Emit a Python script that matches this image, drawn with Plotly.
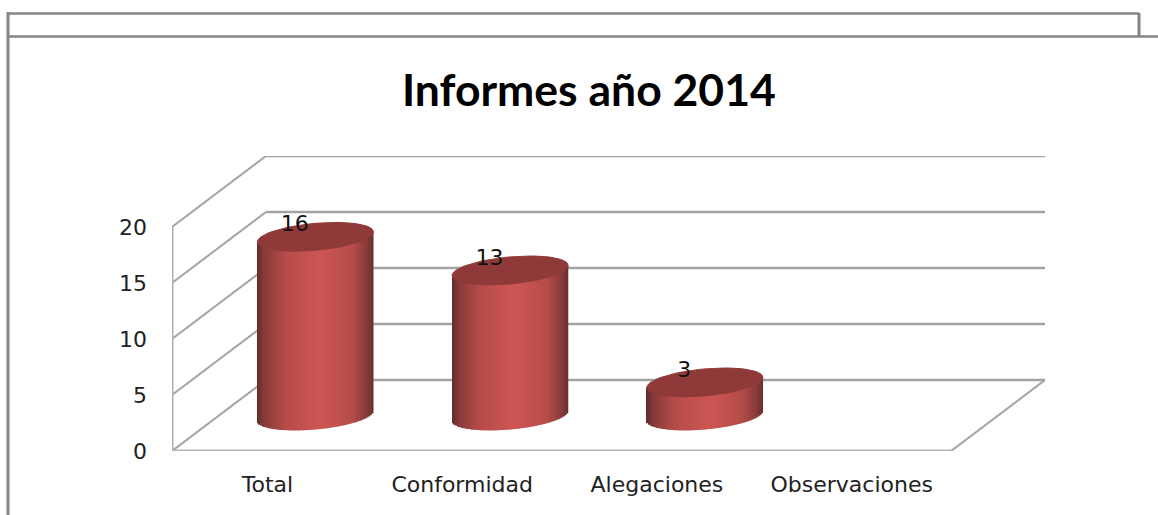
import math
import plotly.graph_objects as go

categories = ["Total", "Conformidad", "Alegaciones", "Observaciones"]
values = [16, 13, 3, 0]
y_ticks = [0, 5, 10, 15, 20]
title_text = "Informes año 2014"

W, H = 1158, 515
L, R, T, B = 172, 113, 156, 64
PX_X = 194.75          # pixels per category
PX_Y = 11.2            # pixels per value unit
DX = 94 / PX_X         # depth offset of back wall
DY = 71 / PX_Y
BAR_A = 58 / PX_X
BAR_B = 13.5 / PX_Y
BAR_S = 5 / PX_Y
BAR_DX = 0.5 + DX / 2 - 0.005
BAR_DY = 35 / PX_Y
N = 70
GREY = "#a3a3a3"
STOPS = [(0.0, (92, 44, 42)), (0.06, (135, 58, 56)), (0.25, (182, 76, 74)),
         (0.55, (205, 86, 83)), (0.82, (182, 76, 74)), (0.95, (135, 58, 56)), (1.0, (105, 48, 46))]


def shade(f):
    for (a, ca), (b, cb) in zip(STOPS, STOPS[1:]):
        if f <= b:
            k = (f - a) / (b - a)
            return "rgb(%d,%d,%d)" % tuple(round(p + (q - p) * k) for p, q in zip(ca, cb))
    return "rgb(%d,%d,%d)" % STOPS[-1][1]


def line(x0, y0, x1, y1, color=GREY, width=2.5, ref="x", layer="below"):
    return dict(type="line", xref=ref, yref="y" if ref == "x" else ref, x0=x0, y0=y0, x1=x1, y1=y1,
                line=dict(color=color, width=width), layer=layer)


def page(px, py):
    return (px - L) / (W - L - R), (H - B - py) / (H - T - B)


fig = go.Figure()

for i, v in enumerate(values):
    if v <= 0:
        continue
    cx = i + BAR_DX
    xs, tops, bases, colors, widths = [], [], [], [], []
    step = 2 * BAR_A / N
    for k in range(N):
        f = (k + 0.5) / N
        u = 2 * f - 1
        xs.append(cx + u * BAR_A)
        widths.append(step * 1.15)
        bottom = BAR_DY + BAR_S * u - BAR_B * math.sqrt(1 - u * u)
        bases.append(bottom)
        tops.append(BAR_DY + v + BAR_S * u - bottom)
        colors.append(shade(f))
    fig.add_trace(go.Bar(x=xs, y=tops, base=bases, width=widths, marker=dict(color=colors, line=dict(width=0)),
                         showlegend=False, hoverinfo="skip", cliponaxis=False))
    ex, ey = [], []
    for t in range(73):
        a = t * 5 * math.pi / 180
        ex.append(cx + BAR_A * math.cos(a))
        ey.append(BAR_DY + v + BAR_B * math.sin(a) + BAR_S * math.cos(a))
    fig.add_trace(go.Scatter(x=ex, y=ey, mode="lines", fill="toself", fillcolor="#8f3a38",
                             line=dict(color="#8f3a38", width=1), showlegend=False, hoverinfo="skip", cliponaxis=False))

shown = [(i, v) for i, v in enumerate(values) if v > 0]
fig.add_trace(go.Scatter(x=[i + 0.63 for i, v in shown], y=[v + 4.1 for i, v in shown],
                         text=[str(v) for i, v in shown], mode="text",
                         textfont=dict(family="DejaVu Sans", size=22, color="#111111"),
                         textposition="middle center", showlegend=False, hoverinfo="skip", cliponaxis=False))

shapes = []
n_cat = len(categories)
for t in y_ticks:
    shapes.append(line(0, t, DX, t + DY, width=2))
    shapes.append(line(DX, t + DY, n_cat + DX, t + DY))
shapes.append(line(0, y_ticks[0], 0, y_ticks[-1], width=3, color="#adadad"))
shapes.append(line(0, 0, n_cat, 0, width=3, color="#b5b5b5"))
shapes.append(line(n_cat, 0, n_cat + DX, DY, width=2))

FRAME = "#858585"
for (a, b, c, d, w) in [(8, 13.5, 1139, 13.5, 2.5), (8, 36.5, 1158, 36.5, 2.5),
                        (8, 12, 8, 515, 3), (1139, 13, 1139, 36, 3)]:
    x0, y0 = page(a, b)
    x1, y1 = page(c, d)
    shapes.append(line(x0, y0, x1, y1, FRAME, w, ref="paper", layer="above"))

tx, ty = page(589, 88)
fig.update_layout(
    width=W, height=H, autosize=False,
    margin=dict(l=L, r=R, t=T, b=B, pad=0),
    paper_bgcolor="white", plot_bgcolor="white",
    barmode="overlay", showlegend=False, shapes=shapes,
    annotations=[dict(text="<b>%s</b>" % title_text, xref="paper", yref="paper", x=tx, y=ty, xanchor="center",
                      yanchor="middle", showarrow=False, font=dict(family="Lato", size=44.5, color="#000000"))],
    xaxis=dict(range=[0, n_cat + DX], showgrid=False, zeroline=False, showline=False, ticks="",
               tickmode="array", tickvals=[i + 0.49 for i in range(n_cat)], ticktext=categories,
               tickfont=dict(family="DejaVu Sans", size=22, color="#222222"), ticklabelstandoff=18),
    yaxis=dict(range=[0, y_ticks[-1] + DY], showgrid=False, zeroline=False, showline=False, ticks="",
               tickmode="array", tickvals=y_ticks, ticktext=[str(t) for t in y_ticks],
               tickfont=dict(family="DejaVu Sans", size=22, color="#222222"), ticklabelstandoff=24),
)

fig.write_html("out.html", config=dict(displayModeBar=False),
               post_script="document.body.style.margin='0';document.body.style.overflow='hidden';")
